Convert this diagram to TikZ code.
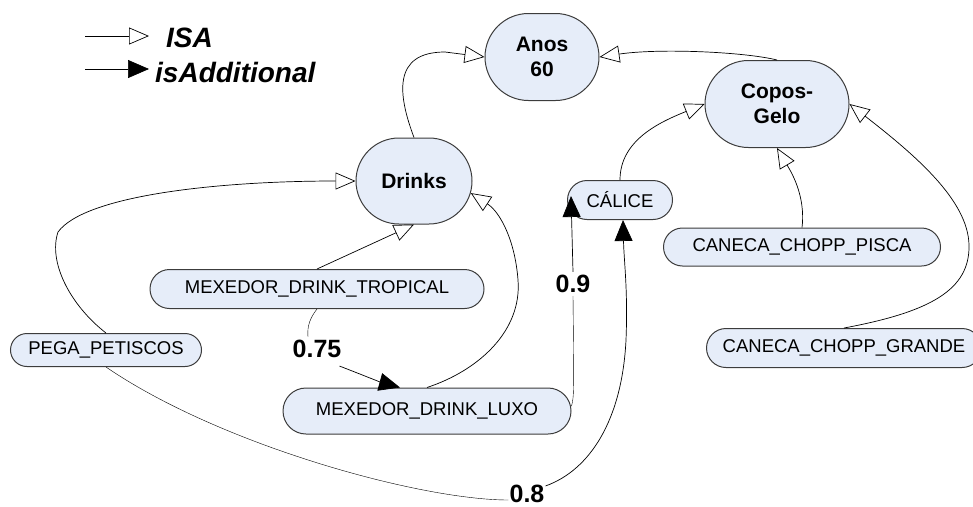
\documentclass[tikz,border=0pt]{standalone}
\usepackage{fontspec}
\setmainfont{Liberation Sans}
\usetikzlibrary{arrows.meta,shapes.misc}
\definecolor{nodefill}{RGB}{230,237,249}
\definecolor{nodeline}{RGB}{60,60,60}
\begin{document}
\begin{tikzpicture}[x=1pt,y=-1pt,
  box/.style={rounded rectangle, draw=nodeline, fill=nodefill, line width=1pt, inner sep=0pt, font=\fontsize{18.5}{22}\selectfont},
  bigbox/.style={box, font=\fontsize{21}{25}\selectfont\bfseries, align=center},
  isa/.style={-{Triangle[open,length=20pt,width=17pt]}, line width=0.7pt},
  add/.style={-{Triangle[length=21pt,width=18pt]}, line width=0.7pt},
  num/.style={font=\fontsize{25}{30}\selectfont\bfseries, inner sep=3pt},
  legend/.style={font=\fontsize{28}{32}\selectfont\bfseries\itshape, inner sep=0pt}]
\useasboundingbox (0,0) rectangle (973,506);

% nodes
\node[bigbox, minimum width=114pt, minimum height=87pt] (anos) at (542,57) {Anos\\60};
\node[bigbox, minimum width=144pt, minimum height=87pt] (copos) at (777,104) {Copos-\\Gelo};
\node[bigbox, minimum width=116pt, minimum height=86pt] (drinks) at (414,181) {Drinks};
\node[box, minimum width=105pt, minimum height=39pt] (calice) at (620,200) {CÁLICE};
\node[box, minimum width=277pt, minimum height=38pt] (pisca) at (802,247) {CANECA\_CHOPP\_PISCA};
\node[box, minimum width=275pt, minimum height=39pt] (grande) at (844,348) {CANECA\_CHOPP\_GRANDE};
\node[box, minimum width=334pt, minimum height=39pt] (tropical) at (317,289) {MEXEDOR\_DRINK\_TROPICAL};
\node[box, minimum width=191pt, minimum height=33pt] (pega) at (106,350) {PEGA\_PETISCOS};
\node[box, minimum width=288pt, minimum height=46pt] (luxo) at (427,411) {MEXEDOR\_DRINK\_LUXO};

% labels
\node[num] (l075) at (317,349) {0.75};
\node[num] (l09) at (573,284) {0.9};
\node[num, inner sep=1pt] (l08) at (527,494) {0.8};

% ISA edges
\draw[isa] (drinks.north) .. controls (398,95) and (392,52) .. (445,52) -- (anos.west);
\draw[isa] (copos.north) .. controls (745,52) and (660,48) .. (anos.east);
\draw[isa] (calice.north) .. controls (620,140) and (660,122) .. (copos.west);
\draw[isa] (pisca.north) .. controls (806,195) and (790,170) .. (copos.south);
\draw[isa] (grande.north) .. controls (930,312) and (970,290) .. (969,245) .. controls (968,200) and (915,155) .. (copos.east);
\draw[isa] (pega.north) .. controls (70,305) and (48,262) .. (58,232) .. controls (85,195) and (220,181) .. (drinks.west);
\draw[isa] (tropical.north) -- (drinks.south);
\draw[isa] (luxo.north) .. controls (480,370) and (522,330) .. (518,280) .. controls (515,240) and (500,212) .. (drinks.-12);

% isAdditional edges
\draw (tropical.south) .. controls (310,318) and (307,326) .. ([xshift=-9pt]l075.north);
\draw[add] ([xshift=-5pt,yshift=-5pt]l075.south east) .. controls (360,374) and (380,382) .. ([xshift=-27pt]luxo.north);
\draw ([yshift=5pt]luxo.east) .. controls (574,396) .. (l09.south);
\draw[add] (l09.north) -- ([xshift=4pt,yshift=4pt]calice.west);
\draw (pega.south) .. controls (220,445) and (420,500) .. ([yshift=-6pt]l08.west);
\draw[add] ([yshift=-2pt]l08.north east) .. controls (590,470) and (622,420) .. (626,340) .. controls (628,290) and (624,262) .. ([xshift=3pt]calice.south);

% legend
\coordinate (lg1s) at (85,36);
\coordinate (lg1e) at (149,36);
\draw[isa] (lg1s) -- (lg1e);
\node[legend, anchor=base west] (isatxt) at (166,47) {ISA};
\coordinate (lg2s) at (85,69);
\coordinate (lg2e) at (149,69);
\draw[add] (lg2s) -- (lg2e);
\node[legend, anchor=base west] (addtxt) at (155,82) {isAdditional};
\end{tikzpicture}
\end{document}
